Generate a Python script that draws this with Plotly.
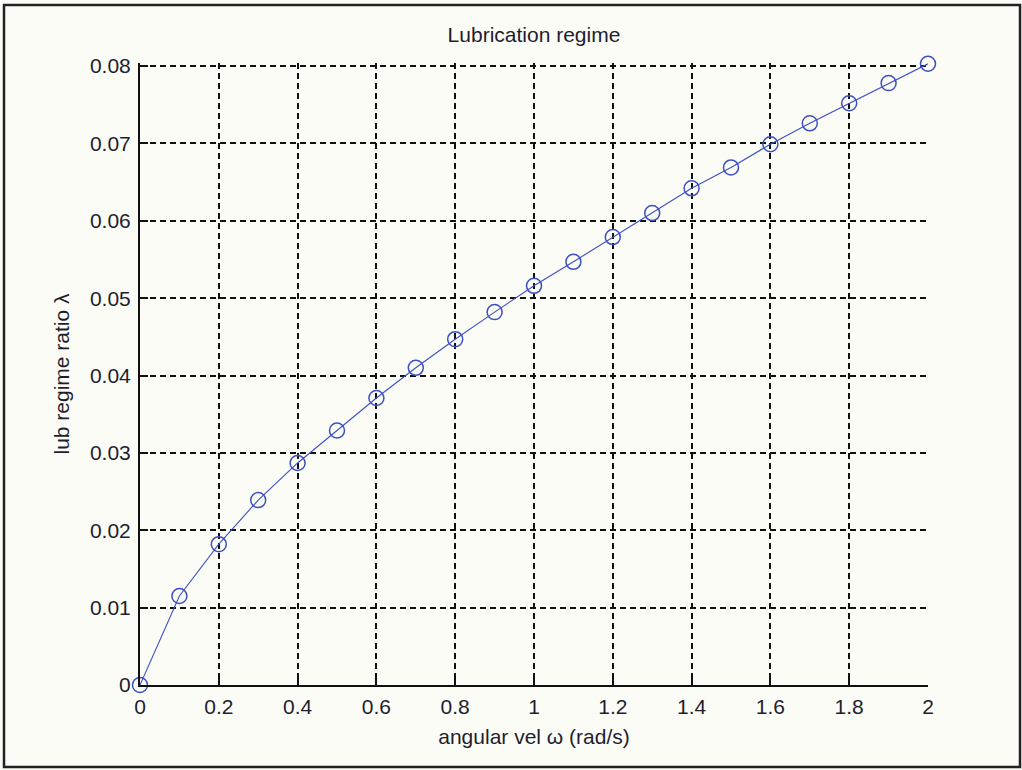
import plotly.graph_objects as go

# Angular velocity (rad/s) and lubrication regime ratio lambda
omega = [0.0, 0.1, 0.2, 0.3, 0.4, 0.5, 0.6, 0.7, 0.8, 0.9, 1.0,
         1.1, 1.2, 1.3, 1.4, 1.5, 1.6, 1.7, 1.8, 1.9, 2.0]
lam = [0.0, 0.0115, 0.0182, 0.0239, 0.0287, 0.0329, 0.0371, 0.0410,
       0.0447, 0.0482, 0.0516, 0.0547, 0.0579, 0.0610, 0.0642, 0.0669,
       0.0699, 0.0726, 0.0752, 0.0778, 0.0803]

x_ticks = [0, 0.2, 0.4, 0.6, 0.8, 1, 1.2, 1.4, 1.6, 1.8, 2]
x_labels = ["0", "0.2", "0.4", "0.6", "0.8", "1", "1.2", "1.4", "1.6", "1.8", "2"]
y_ticks = [0, 0.01, 0.02, 0.03, 0.04, 0.05, 0.06, 0.07, 0.08]
y_labels = ["0", "0.01", "0.02", "0.03", "0.04", "0.05", "0.06", "0.07", "0.08"]

bg = "#fcfcf7"
ink = "#1e1e30"
font = "Liberation Sans, Arial, sans-serif"

# plot box in pixels (0.08 sits at y=66, the top of the data range a bit above)
L, R, T, B = 140, 928, 66, 685
y_top = 0.0804
px_per_unit = (B - T) / 0.08
t_margin = T - (y_top - 0.08) * px_per_unit

fig = go.Figure()
fig.add_trace(go.Scatter(
    x=omega, y=lam, mode="lines+markers",
    line=dict(color="#3b4fc4", width=1.1),
    marker=dict(symbol="circle-open", size=15, color="#3b4fc4",
                line=dict(width=1.5, color="#3b4fc4")),
    cliponaxis=False, showlegend=False,
))

axis_common = dict(
    showgrid=True, gridcolor="#111111", gridwidth=1.8, griddash="6px,4px",
    zeroline=False, showline=True, linecolor="#111111", linewidth=2,
    ticks="inside", ticklen=8, tickwidth=1.5, tickcolor="#111111",
    tickfont=dict(family=font, size=21, color=ink),
)

fig.update_xaxes(
    range=[0, 2], tickvals=x_ticks, ticktext=x_labels, ticklabelstandoff=2,
    title=dict(text="angular vel ω (rad/s)", standoff=12,
               font=dict(family=font, size=21, color=ink)),
    **axis_common,
)
fig.update_yaxes(
    range=[0, y_top], tickvals=y_ticks, ticktext=y_labels, ticklabelstandoff=3,
    title=dict(text="lub regime ratio λ", standoff=15,
               font=dict(family=font, size=21, color=ink)),
    **axis_common,
)

fig.update_layout(
    width=1022, height=770,
    margin=dict(l=L, r=1022 - R, t=t_margin, b=770 - B),
    paper_bgcolor=bg, plot_bgcolor=bg,
    title=dict(text="Lubrication regime", x=(L + R) / 2 / 1022,
               xanchor="center", y=1 - 35 / 770, yanchor="middle",
               font=dict(family=font, size=21, color=ink)),
    shapes=[dict(type="rect", xref="paper", yref="paper",
                 x0=(4 - L) / (R - L), x1=(1020 - L) / (R - L),
                 y0=(B - 767) / (B - t_margin), y1=(B - 5) / (B - t_margin),
                 line=dict(color="#222222", width=2.5), layer="below")],
)

fig.write_html("out.html")
